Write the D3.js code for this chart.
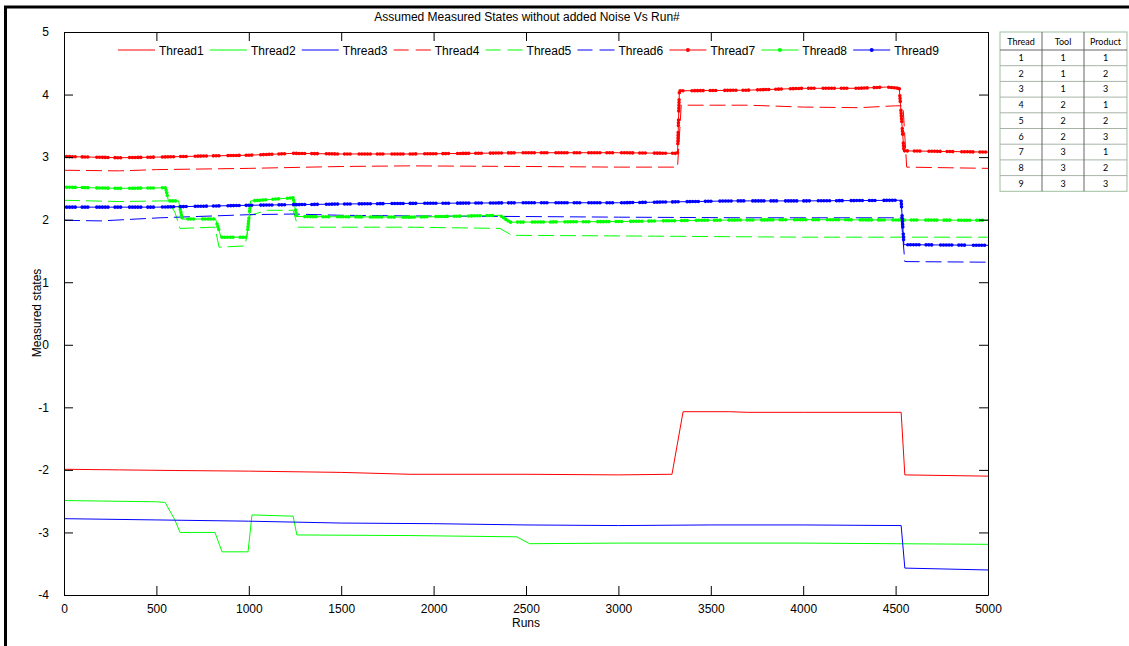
<!DOCTYPE html>
<html lang="en">
<head>
  <meta charset="utf-8">
  <title>Assumed Measured States</title>
  <script src="https://cdn.jsdelivr.net/npm/d3@7"></script>
  <style>
    body { margin: 0; background: #fff; }
    text { font-family: "Liberation Sans", Arial, sans-serif; fill: #000; }
  </style>
</head>
<body>
  <script>
    // breakpoints [run, value]
    const thread1 = [[0,-1.99],[300,-2.0],[600,-2.01],[1000,-2.02],[1500,-2.04],[1872,-2.07],[2500,-2.07],[3000,-2.08],[3290,-2.07],[3350,-1.07],[3600,-1.07],[3700,-1.08],[4000,-1.08],[4530,-1.08],[4550,-2.08],[5000,-2.1]];
    const thread2 = [[0,-2.49],[500,-2.51],[547,-2.52],[600,-2.8],[628,-3.0],[817,-3.0],[855,-3.31],[996,-3.31],[1017,-2.72],[1240,-2.74],[1260,-3.04],[1872,-3.05],[2450,-3.07],[2520,-3.18],[3000,-3.17],[4000,-3.17],[5000,-3.19]];
    const thread3 = [[0,-2.78],[500,-2.8],[1000,-2.82],[1500,-2.85],[2000,-2.86],[2500,-2.88],[3000,-2.89],[3500,-2.88],[4000,-2.88],[4530,-2.89],[4550,-3.57],[5000,-3.6]];
    const thread4 = [[0,2.79],[300,2.78],[500,2.8],[1000,2.82],[1500,2.85],[1872,2.86],[2500,2.85],[3000,2.84],[3320,2.84],[3340,3.83],[3700,3.83],[4000,3.8],[4300,3.79],[4500,3.82],[4540,3.82],[4560,2.84],[5000,2.82]];
    const thread5 = [[0,2.31],[300,2.29],[540,2.3],[560,2.3],[600,2.12],[628,1.86],[817,1.88],[839,1.56],[980,1.58],[1006,2.07],[1100,2.15],[1240,2.15],[1266,1.88],[1872,1.88],[2359,1.86],[2424,1.75],[3000,1.74],[4000,1.72],[5000,1.72]];
    const thread6 = [[0,1.99],[200,1.98],[520,2.03],[1006,2.08],[1240,2.09],[1500,2.07],[1872,2.06],[2500,2.05],[3000,2.04],[3700,2.03],[4530,2.03],[4550,1.33],[5000,1.32]];
    const thread7 = [[0,3.01],[150,3.0],[300,2.99],[500,3.0],[800,3.02],[1000,3.03],[1240,3.06],[1500,3.05],[1872,3.05],[2500,3.07],[3000,3.07],[3320,3.06],[3330,4.06],[3700,4.07],[4000,4.1],[4300,4.1],[4450,4.12],[4520,4.1],[4545,3.1],[5000,3.08]];
    const thread8 = [[0,2.52],[300,2.5],[550,2.51],[565,2.3],[620,2.3],[640,2.01],[820,2.01],[850,1.72],[990,1.72],[1010,2.3],[1240,2.35],[1260,2.05],[1872,2.04],[2359,2.07],[2413,1.96],[3000,1.97],[3442,1.99],[4000,2.0],[5000,1.99]];
    const thread9 = [[0,2.2],[500,2.2],[1000,2.23],[1500,2.25],[1872,2.26],[2500,2.27],[3000,2.27],[3620,2.3],[4000,2.3],[4530,2.31],[4545,1.6],[5000,1.59]];

    const seriesNames = ["Thread1","Thread2","Thread3","Thread4","Thread5","Thread6","Thread7","Thread8","Thread9"];
    const seriesData = [thread1, thread2, thread3, thread4, thread5, thread6, thread7, thread8, thread9];
    const xTicks = [0,500,1000,1500,2000,2500,3000,3500,4000,4500,5000];
    const yTicks = [-4,-3,-2,-1,0,1,2,3,4,5];

    // lookup table on the right
    const tableHeader = ["Thread", "Tool", "Product"];
    const tableThread = [1,2,3,4,5,6,7,8,9];
    const tableTool = [1,1,1,2,2,2,3,3,3];
    const tableProduct = [1,2,3,1,2,3,1,2,3];

    // styles per series
    const colors = ["#ff0000","#00ff00","#0000ff"];
    const styleOf = i => ({ color: colors[i % 3], kind: Math.floor(i / 3) }); // 0 solid, 1 dashed, 2 dots

    const W = 1129, H = 646;
    const margins = { left: 64, top: 32, right: 141, bottom: 51 };
    const width = W - margins.left - margins.right, height = H - margins.top - margins.bottom;

    let svg = d3.select("body").append("svg")
      .attr("width", W)
      .attr("height", H);

    // figure frame (top and left edges)
    svg.append("line").attr("x1", 4).attr("x2", W).attr("y1", 7).attr("y2", 7)
      .attr("stroke", "#000").attr("stroke-width", 3);
    svg.append("line").attr("x1", 5.5).attr("x2", 5.5).attr("y1", 6).attr("y2", H)
      .attr("stroke", "#000").attr("stroke-width", 3);

    let xScale = d3.scaleLinear().domain([0, 5000]).range([0, width]);
    let yScale = d3.scaleLinear().domain([-4, 5]).range([height, 0]);

    let container = svg.append("g")
      .attr("transform", `translate(${margins.left}, ${margins.top})`);

    container.append("clipPath").attr("id", "plotclip")
      .append("rect").attr("width", width).attr("height", height);

    // the lines
    let line = d3.line().x(d => xScale(d[0])).y(d => yScale(d[1]));
    let plot = container.append("g").attr("clip-path", "url(#plotclip)");
    seriesData.forEach((data, i) => {
      let s = styleOf(i);
      plot.append("path")
        .attr("d", line(data))
        .attr("fill", "none")
        .attr("stroke", s.color)
        .attr("stroke-width", 1)
        .attr("stroke-dasharray", s.kind === 1 ? "16,6" : null);
      if (s.kind === 2) {
        // dense point markers
        plot.append("path")
          .attr("d", line(data))
          .attr("fill", "none")
          .attr("stroke", s.color)
          .attr("stroke-width", 3.6)
          .attr("stroke-linecap", "round")
          .attr("stroke-dasharray", "0,2.8,0,2.8,0,2.8,0,2.8,0,7,0,2.8,0,2.8,0,9");
      }
    });

    // axes, ticks inside, box on
    let fmt = d => String(d);
    let xAxis = d3.axisBottom(xScale).tickValues(xTicks).tickFormat(fmt).tickSizeInner(-9).tickSizeOuter(0).tickPadding(14);
    let xAxisG = container.append("g").attr("transform", `translate(0, ${height})`).call(xAxis);
    let xTop = d3.axisTop(xScale).tickValues(xTicks).tickSizeInner(-9).tickSizeOuter(0).tickFormat("");
    container.append("g").call(xTop);
    let yAxis = d3.axisLeft(yScale).tickValues(yTicks).tickFormat(fmt).tickSizeInner(-9).tickSizeOuter(0).tickPadding(15);
    container.append("g").call(yAxis);
    let yRight = d3.axisRight(yScale).tickValues(yTicks).tickSizeInner(-9).tickSizeOuter(0).tickFormat("");
    container.append("g").attr("transform", `translate(${width}, 0)`).call(yRight);
    container.selectAll(".domain").attr("stroke", "#000");
    container.selectAll(".tick line").attr("stroke", "#000");
    container.selectAll(".tick text").style("font-size", "12px");
    xAxisG.selectAll(".tick text").attr("dy", "0.3em");

    // x label
    svg.append("text").text("Runs")
      .attr("x", margins.left + width / 2).attr("y", 627)
      .attr("text-anchor", "middle").style("font-size", "12px");
    // y label
    svg.append("text").text("Measured states")
      .attr("transform", `translate(41, ${margins.top + 281}) rotate(-90)`)
      .attr("text-anchor", "middle").style("font-size", "12px");
    // title
    svg.append("text").text("Assumed Measured States without added Noise Vs Run#")
      .attr("x", 527).attr("y", 21)
      .attr("text-anchor", "middle").style("font-size", "12px");

    // legend
    let legend = container.append("g").attr("transform", `translate(54, 18)`);
    seriesNames.forEach((name, i) => {
      let s = styleOf(i);
      let g = legend.append("g").attr("transform", `translate(${i * 91.9}, 0)`);
      g.append("line").attr("x1", 0).attr("x2", 37).attr("y1", 0).attr("y2", 0)
        .attr("stroke", s.color).attr("stroke-width", 1)
        .attr("stroke-dasharray", s.kind === 1 ? "15,7" : null);
      if (s.kind === 2) {
        g.append("circle").attr("cx", 18.5).attr("cy", 0).attr("r", 2).attr("fill", s.color);
      }
      g.append("text").text(name).attr("x", 41).attr("y", 4.5).style("font-size", "12px");
    });

    // thread / tool / product table
    let tx = 1000, ty = 32, colW = [42, 42, 43], headH = 18, rowH = 15.7;
    let table = svg.append("g");
    let tableW = d3.sum(colW), tableH = headH + rowH * tableThread.length;
    table.append("rect").attr("x", tx).attr("y", ty).attr("width", tableW).attr("height", tableH)
      .attr("fill", "#fff").attr("stroke", "#9fbf9f").attr("stroke-width", 1);
    let colX = [tx, tx + colW[0], tx + colW[0] + colW[1]];
    // row lines
    for (let r = 0; r < tableThread.length; r++) {
      let y = ty + headH + r * rowH;
      table.append("line").attr("x1", tx).attr("x2", tx + tableW).attr("y1", y).attr("y2", y)
        .attr("stroke", r === 0 ? "#666" : "#a6b4a6").attr("stroke-width", 1);
    }
    // column lines
    [colX[1], colX[2]].forEach(x => {
      table.append("line").attr("x1", x).attr("x2", x).attr("y1", ty).attr("y2", ty + tableH)
        .attr("stroke", "#666").attr("stroke-width", 1);
    });
    tableHeader.forEach((h, c) => {
      table.append("text").text(h)
        .attr("x", colX[c] + colW[c] / 2).attr("y", ty + 12.5)
        .attr("text-anchor", "middle").style("font-size", "9px").style("font-family", "Lato, sans-serif");
    });
    tableThread.forEach((t, r) => {
      [t, tableTool[r], tableProduct[r]].forEach((v, c) => {
        table.append("text").text(v)
          .attr("x", colX[c] + colW[c] / 2).attr("y", ty + headH + r * rowH + 11)
          .attr("text-anchor", "middle").style("font-size", "9px").style("font-family", "Lato, sans-serif");
      });
    });
  </script>
</body>
</html>
